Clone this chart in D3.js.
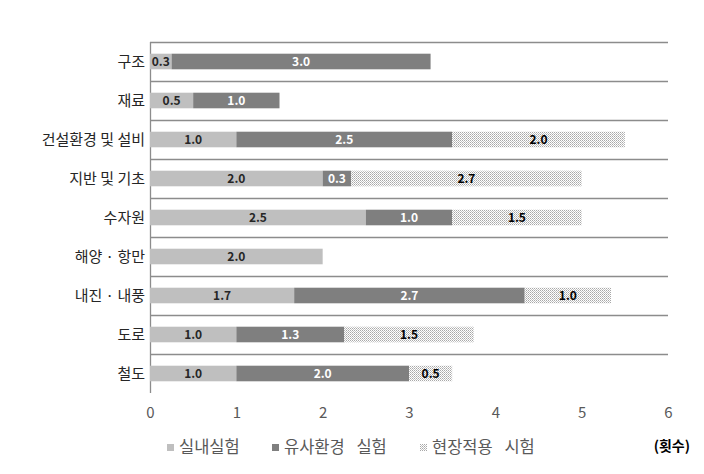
<!DOCTYPE html>
<html><head><meta charset="utf-8">
<script src="https://cdn.jsdelivr.net/npm/d3@7"></script>
<style>body{margin:0;background:#fff;} text{font-family:"Noto Sans CJK KR","Malgun Gothic",sans-serif;}</style>
</head><body><svg id="c" width="704" height="474"></svg>
<script>
const categories = ["구조","재료","건설환경 및 설비","지반 및 기초","수자원","해양 · 항만","내진 · 내풍","도로","철도"];
const seriesNames = ["실내실험","유사환경 실험","현장적용 시험"];
const indoor  = [0.25, 0.5, 1.0, 2.0, 2.5, 2.0, 1.67, 1.0, 1.0];
const similar = [3.0, 1.0, 2.5, 0.33, 1.0, 0, 2.67, 1.25, 2.0];
const field   = [0, 0, 2.0, 2.67, 1.5, 0, 1.0, 1.5, 0.5];
const xTicks = [0,1,2,3,4,5,6];
const unitLabel = "(횟수)";

const svg = d3.select("#c");
const defs = svg.append("defs");
const pat = defs.append("pattern").attr("id","dots").attr("width",2).attr("height",2).attr("patternUnits","userSpaceOnUse");
pat.append("rect").attr("width",2).attr("height",2).attr("fill","#fff");
pat.append("rect").attr("x",0).attr("y",0).attr("width",1).attr("height",1).attr("fill","#a8a8a8");
pat.append("rect").attr("x",1).attr("y",1).attr("width",1).attr("height",1).attr("fill","#c4c4c4");

const x = d3.scaleLinear().domain([0,6]).range([150,668]);
const y = d3.scaleBand().domain(categories).range([42,393]).paddingInner(0.6).paddingOuter(0.3);

// gridlines
svg.append("g").selectAll("line").data(categories).join("line")
  .attr("x1",x(0)).attr("x2",x(6))
  .attr("y1",(d)=>y(d)-y.step()*y.paddingOuter()+0.5)
  .attr("y2",(d)=>y(d)-y.step()*y.paddingOuter()+0.5)
  .attr("stroke","#8c8c8c").attr("stroke-width",1.3);
// vertical axis
svg.append("line").attr("x1",x(0)+0.5).attr("x2",x(0)+0.5).attr("y1",42).attr("y2",393).attr("stroke","#8c8c8c").attr("stroke-width",1.3);

const fills = ["#bfbfbf","#7f7f7f","url(#dots)"];
const textCols = ["#262626","#ffffff","#000000"];
const series = [indoor, similar, field];
const data = categories.map((c,i)=>({cat:c, vals:series.map(s=>s[i])}));
const stack = d3.stack().keys([0,1,2]).value((d,k)=>d.vals[k]);
const stacked = stack(data);
const fmt = d3.format(".1f");

stacked.forEach((layer,k)=>{
  const g = svg.append("g");
  g.selectAll("rect").data(layer.filter(d=>d[1]-d[0]>0)).join("rect")
    .attr("x",d=>x(d[0])).attr("width",d=>x(d[1])-x(d[0]))
    .attr("y",d=>y(d.data.cat)).attr("height",y.bandwidth())
    .attr("fill",fills[k]);
  g.selectAll("text").data(layer.filter(d=>d[1]-d[0]>0)).join("text")
    .attr("x",d=>(x(d[0])+x(d[1]))/2).attr("y",d=>y(d.data.cat)+y.bandwidth()/2)
    .attr("dy","0.36em").attr("text-anchor","middle")
    .attr("font-size",12).attr("font-weight","bold").attr("fill",textCols[k])
    .text(d=>fmt(d[1]-d[0]));
});

// category labels
svg.append("g").selectAll("text").data(categories).join("text")
  .attr("x",x(0)-5).attr("y",d=>y(d)+y.bandwidth()/2).attr("dy","0.35em")
  .attr("text-anchor","end").attr("font-size",15).attr("fill","#262626")
  .text(d=>d);

// x axis ticks
const ax = svg.append("g").attr("transform","translate(0,404)")
  .call(d3.axisBottom(x).tickValues(xTicks).tickSize(0).tickFormat(d3.format("d")));
ax.select(".domain").remove();
ax.selectAll("text").attr("font-size",15).attr("fill","#595959").attr("font-family","'Noto Sans CJK KR',sans-serif");

// legend
const legX = [167, 272, 420];
const lg = svg.append("g");
seriesNames.forEach((n,i)=>{
  lg.append("rect").attr("x",legX[i]).attr("y",444).attr("width",7).attr("height",7).attr("fill",fills[i]);
  lg.append("text").attr("x",legX[i]+12).attr("y",447).attr("dy","0.35em")
    .attr("font-size",16.5).attr("word-spacing","8px").attr("fill","#595959").text(n);
});
svg.append("text").attr("x",690).attr("y",446).attr("dy","0.35em").attr("text-anchor","end")
  .attr("font-size",14).attr("font-weight","bold").attr("fill","#000").text(unitLabel);
</script></body></html>
